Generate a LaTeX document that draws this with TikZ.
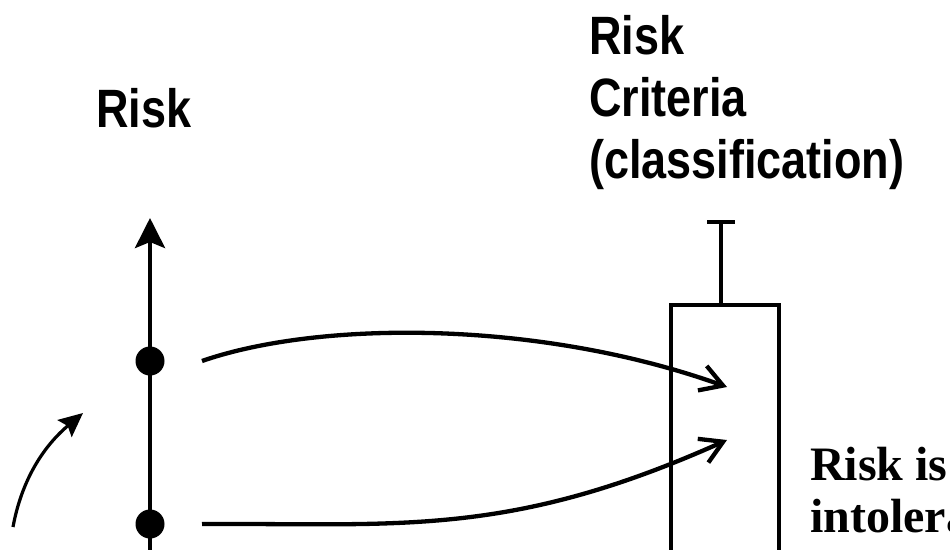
\documentclass[tikz,border=0pt]{standalone}
\usepackage{fontspec}
\setmainfont{Liberation Sans}
\newfontfamily\serifbold{Liberation Serif}
\usetikzlibrary{arrows.meta}
\tikzset{
  axisline/.style={line width=4.3pt, -{Stealth[length=30pt,width=30pt,inset=6pt]}},
  curvearrow/.style={line width=4.3pt, -{Straight Barb[length=22pt,width=26pt,line width=4.3pt]}},
  smallarrow/.style={line width=3.2pt, -{Stealth[length=24pt,width=22pt,inset=4pt]}},
  dot/.style={circle, fill=black, inner sep=0pt, minimum size=29pt},
  boxline/.style={line width=4.3pt},
  sanslabel/.style={inner sep=0pt, anchor=base west, font=\bfseries\fontsize{45}{52}\selectfont},
  seriflabel/.style={inner sep=0pt, anchor=base west, font=\serifbold\bfseries\fontsize{48}{52}\selectfont}
}
\begin{document}
\begin{tikzpicture}[x=1pt, y=-1pt]
\useasboundingbox (0,0) rectangle (950,549);
\clip (0,0) rectangle (950,549);
\fill[white] (0,0) rectangle (950,549);

% texts
\node[sanslabel] (risk) at (96,127) {\scalebox{1}[1.2]{Risk}};
\node[sanslabel] (crit) at (589,54) {\scalebox{1}[1.2]{\begin{tabular}[t]{@{}l@{}}Risk\\Criteria\\(classification)\end{tabular}}};
\node[seriflabel] (intol) at (810,480) {\begin{tabular}[t]{@{}l@{}}Risk is\\intolerable\end{tabular}};

% axis
\coordinate (axbot) at (150,560);
\coordinate (axtop) at (150,218);
\draw[axisline] (axbot) -- (axtop);
\node[dot] (d1) at (150,361) {};
\node[dot] (d2) at (150,524) {};

% criteria box
\coordinate (bl) at (671,560);
\coordinate (tl) at (671,305);
\coordinate (tr) at (779,305);
\coordinate (br) at (779,560);
\draw[boxline] (bl) -- (tl) -- (tr) -- (br);
\coordinate (stembot) at (721,305);
\coordinate (stemtop) at (721,222);
\coordinate (barl) at (707,222);
\coordinate (barr) at (735,222);
\draw[boxline] (stembot) -- (stemtop);
\draw[boxline] (barl) -- (barr);

% arrows into box
\coordinate (s1) at (202,361);
\coordinate (t1) at (727,387);
\coordinate (s2) at (202,524);
\coordinate (t2) at (727,440);
\draw[curvearrow] (s1) .. controls (320,320) and (540,320) .. (t1);
\draw[curvearrow] (s2) .. controls (400,523) and (508,538) .. (t2);

% small arrow lower left
\coordinate (a0) at (13,527);
\coordinate (a1) at (83,413);
\draw[smallarrow] (a0) .. controls (22,478) and (45,445) .. (a1);
\end{tikzpicture}
\end{document}
